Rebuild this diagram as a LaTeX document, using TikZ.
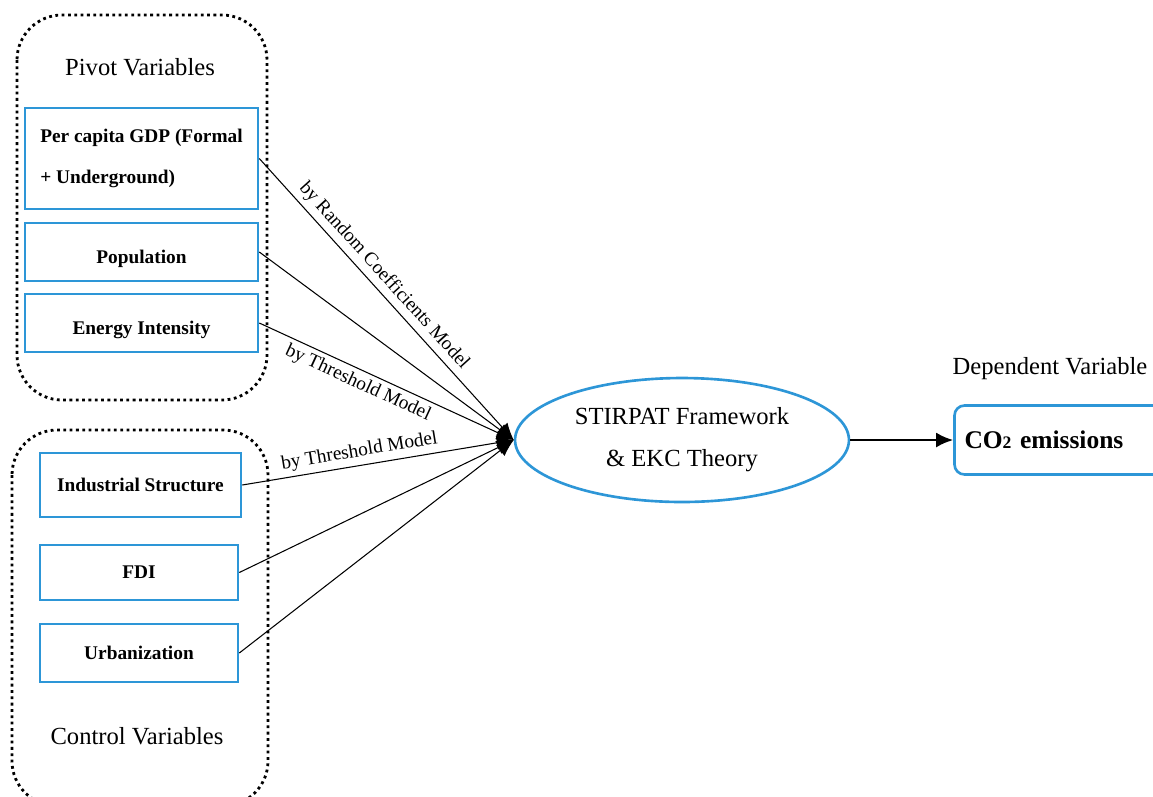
\documentclass[tikz,border=0pt]{standalone}
\usepackage{amsmath}
\usepackage{fontspec}
\setmainfont{Liberation Serif}
\usetikzlibrary{arrows.meta, shapes, positioning, calc}

\definecolor{boxblue}{RGB}{45,150,215}

\tikzset{
  varbox/.style={draw=boxblue, line width=1.5pt, rectangle, font=\fontsize{11}{13.5}\selectfont\bfseries},
  groupbox/.style={draw, line width=1.6pt, dotted, rounded corners=0.9cm},
  grouptitle/.style={font=\fontsize{14}{17}\selectfont},
  link/.style={-{Latex[length=0.34cm,width=0.28cm]}, line width=0.6pt},
  linklabel/.style={font=\fontsize{11}{13}\selectfont, sloped, inner sep=2.5pt}
}

\begin{document}
\begin{tikzpicture}[x=0.02cm, y=-0.02cm]
\useasboundingbox (0,0) rectangle (1153,796);

\draw[groupbox] (17,15) rectangle (267,400);
\draw[groupbox] (12,430) rectangle (268,806);
\node[grouptitle] (pivottitle) at (140,67) {Pivot Variables};
\node[grouptitle] (controltitle) at (137,736) {Control Variables};

\node[varbox, minimum width=4.66cm, minimum height=2.02cm, align=left] (gdp) at (141.5,158.5) {Per capita GDP (Formal\\[10pt]+ Underground)};
\node[varbox, minimum width=4.66cm, minimum height=1.16cm, text height=3.2ex, text depth=0.3ex] (pop) at (141.5,252) {Population};
\node[varbox, minimum width=4.66cm, minimum height=1.16cm, text height=3.2ex, text depth=0.3ex] (energy) at (141.5,323) {Energy Intensity};
\node[varbox, minimum width=4.02cm, minimum height=1.28cm] (ind) at (140.5,485) {Industrial Structure};
\node[varbox, minimum width=3.96cm, minimum height=1.10cm] (fdi) at (139,572.5) {FDI};
\node[varbox, minimum width=3.96cm, minimum height=1.16cm] (urban) at (139,653) {Urbanization};

\node[draw=boxblue, line width=1.5pt, ellipse, minimum width=6.68cm, minimum height=2.48cm, align=center, font=\fontsize{14}{17}\selectfont] (stirpat) at (682,440) {STIRPAT Framework\\[7pt]\& EKC Theory};

\node[grouptitle] (deptitle) at (1050,369) {Dependent Variable};
\node[draw=boxblue, line width=1.5pt, rounded corners=0.2cm, minimum height=1.38cm, text width=3.9cm, inner xsep=0.2cm, align=left, font=\fontsize{14.5}{17}\selectfont\bfseries] (co2) at (1062,440) {CO{\fontsize{10}{10}\selectfont 2} emissions};

\draw[link] (gdp.east) -- node[linklabel, pos=0.45, above] {by Random Coefficients Model} (stirpat.west);
\draw[link] (energy.east) -- node[linklabel, pos=0.41, below] {by Threshold Model} (stirpat.west);
\draw[link] (ind.east) -- node[linklabel, pos=0.44, above] {by Threshold Model} (stirpat.west);
\foreach \v in {pop,fdi,urban} {
    \draw[link] (\v.east) -- (stirpat.west);
}
\draw[-{Latex[length=0.34cm,width=0.3cm]}, line width=1.4pt] (stirpat.east) -- (co2.west);
\end{tikzpicture}
\end{document}
